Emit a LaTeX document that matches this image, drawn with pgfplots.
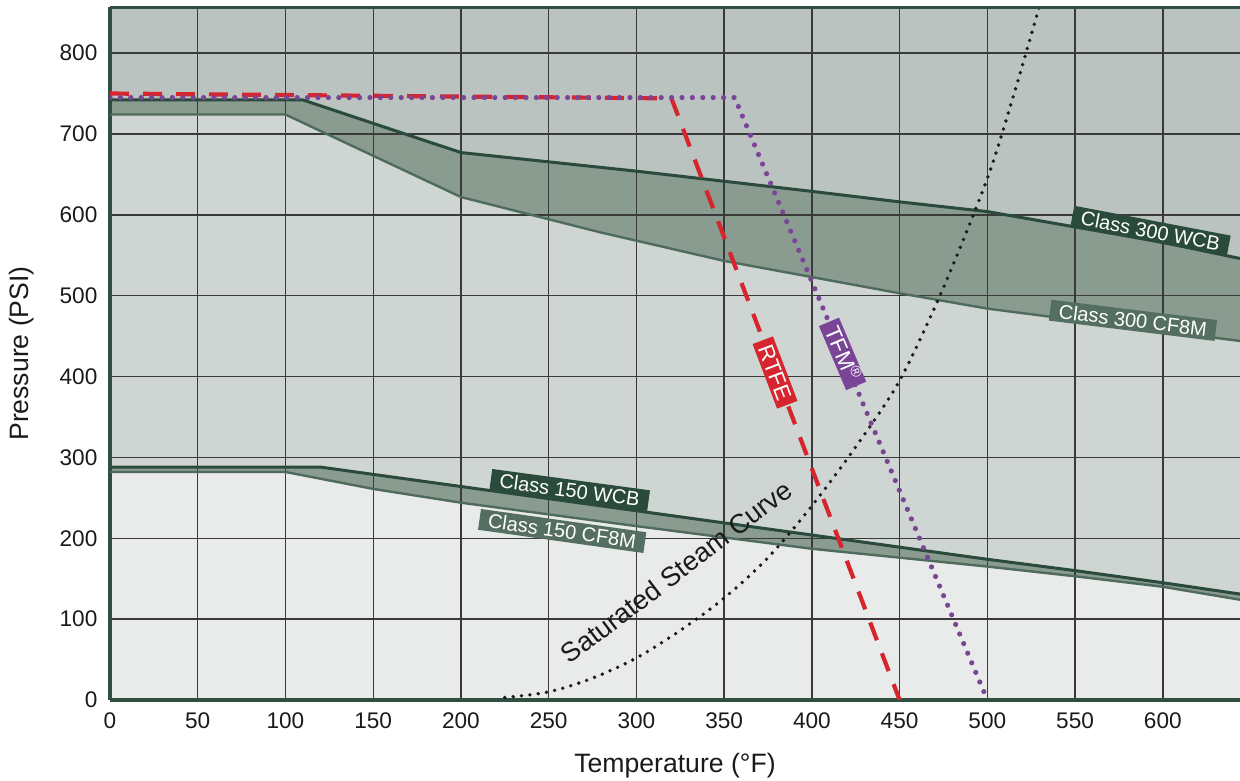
\documentclass[border=0pt]{standalone}
\usepackage{pgfplots}
\pgfplotsset{compat=1.18}
\usepackage{pgfplotstable}
\usepackage{fontspec}
\setmainfont{Liberation Sans}

\definecolor{bgtop}{HTML}{BAC3BF}
\definecolor{bgband}{HTML}{8A9B90}
\definecolor{bgmid}{HTML}{CED5D2}
\definecolor{bglow}{HTML}{E9EBEA}
\definecolor{wcbline}{HTML}{2A4B3B}
\definecolor{cfline}{HTML}{4F6B5D}
\definecolor{cfbox}{HTML}{546F62}
\definecolor{axisgreen}{HTML}{2F5040}
\definecolor{gridcol}{HTML}{3A3A3A}
\definecolor{tickcol}{HTML}{1A1A1A}
\definecolor{rtfe}{HTML}{D6252E}
\definecolor{tfm}{HTML}{7B4597}

% class 300 carbon steel (WCB)
\pgfplotstableread{
T P
0 742
110 742
200 677
300 654
400 629
450 616
500 604
550 585
600 566
644 546
}\wcbthree
% class 300 stainless (CF8M)
\pgfplotstableread{
T P
0 724
100 724
200 622
280 578
350 543
400 523
450 503
500 484
600 456
644 444
}\cfthree
% class 150 WCB
\pgfplotstableread{
T P
0 288
120 288
200 264
300 234
400 204
450 189
500 174
550 160
600 145
644 131
}\wcbone
% class 150 CF8M
\pgfplotstableread{
T P
0 282
100 282
150 261
200 244
300 215
400 187
450 176
500 165
550 153
600 140
644 124
}\cfone

\begin{document}
\begin{tikzpicture}
\begin{axis}[
    name=ax,
    set layers,
    scale only axis, width=565pt, height=346.5pt,
    xmin=0, xmax=644, ymin=0, ymax=857,
    axis lines*=left,
    axis line style={color=axisgreen, line width=1.6pt},
    xtick={0,50,...,600}, ytick={0,100,...,800},
    major tick length=0pt,
    grid=major, major grid style={color=gridcol, line width=0.7pt},
    ticklabel style={font=\fontsize{11.3}{13}\selectfont, text=tickcol},
    /pgf/number format/assume math mode=true,
    xticklabel style={yshift=-2.8pt}, yticklabel style={xshift=-2.8pt},
    xlabel={Temperature (°F)}, ylabel={Pressure (PSI)},
    every axis x label/.style={at={(axis description cs:0.5,-0.0952)}, anchor=center,
        font=\fontsize{13.3}{15}\selectfont, text=tickcol},
    every axis y label/.style={at={(axis description cs:-0.0779,0.5)}, rotate=90, anchor=center,
        font=\fontsize{13.3}{15}\selectfont, text=tickcol},
]
% background bands, painted top down
\addplot[draw=none, fill=bgtop, on layer=axis background] coordinates {(0,857) (644,857)} \closedcycle;
\addplot[draw=none, fill=bgband, on layer=axis background] table {\wcbthree} \closedcycle;
\addplot[draw=none, fill=bgmid, on layer=axis background] table {\cfthree} \closedcycle;
\addplot[draw=none, fill=bgband, on layer=axis background] table {\wcbone} \closedcycle;
\addplot[draw=none, fill=bglow, on layer=axis background] table {\cfone} \closedcycle;

% rating lines
\addplot[wcbline, line width=1.5pt] table {\wcbthree};
\addplot[cfline, line width=1.2pt] table {\cfthree};
\addplot[wcbline, line width=1.5pt] table {\wcbone};
\addplot[cfline, line width=1.2pt] table {\cfone};

% saturated steam
\addplot[tickcol, line width=1.9pt, line cap=round, dash pattern=on 0pt off 4.2pt, smooth]
  coordinates {(225,3) (250,10) (275,27) (300,52) (325,86) (350,126) (375,176) (400,240)
  (425,313) (450,395) (475,510) (500,645) (515,748) (530,860)};

% seat ratings
\addplot[rtfe, line width=2.1pt, dash pattern=on 9.5pt off 7pt] coordinates {(0,750) (320,744) (450,0)};
\addplot[tfm, line width=2.6pt, line cap=round, dash pattern=on 0pt off 5.2pt] coordinates {(0,745) (356,745) (500,0)};

\draw[axisgreen, line width=1.6pt] (rel axis cs:0,1) -- (rel axis cs:1,1);

\tikzset{lab/.style={text=white, inner xsep=4.5pt, inner ysep=1.4pt, text height=7.4pt, text depth=0.3pt,
    font=\fontsize{10}{12}\selectfont}}
\node[lab, fill=wcbline, rotate=-10.8] at (axis cs:593,580) {Class 300 WCB};
\node[lab, fill=cfbox, rotate=-7] at (axis cs:583,469.5) {Class 300 CF8M};
\node[lab, fill=wcbline, rotate=-7.7] at (axis cs:262,259.6) {Class 150 WCB};
\node[lab, fill=cfbox, rotate=-8] at (axis cs:257.7,209) {Class 150 CF8M};
\node[lab, fill=rtfe, rotate=-69.2, inner xsep=3pt, inner ysep=1.3pt, text height=8pt,
  font=\fontsize{11}{13}\selectfont] at (axis cs:379,405) {RTFE};
\node[lab, fill=tfm, rotate=-67, inner xsep=3pt, inner ysep=1.3pt, text height=8pt,
  font=\fontsize{11}{13}\selectfont] at (axis cs:417.5,428) {TFM\textsuperscript{®}};
\node[rotate=37.2, text=tickcol, font=\fontsize{13.5}{15}\selectfont] at (axis cs:322.8,158.6) {Saturated Steam Curve};
\end{axis}
\pgfresetboundingbox
\useasboundingbox ([xshift=-55pt,yshift=-40.5pt]ax.south west) rectangle ([yshift=3.5pt]ax.north east);
\end{tikzpicture}
\end{document}
